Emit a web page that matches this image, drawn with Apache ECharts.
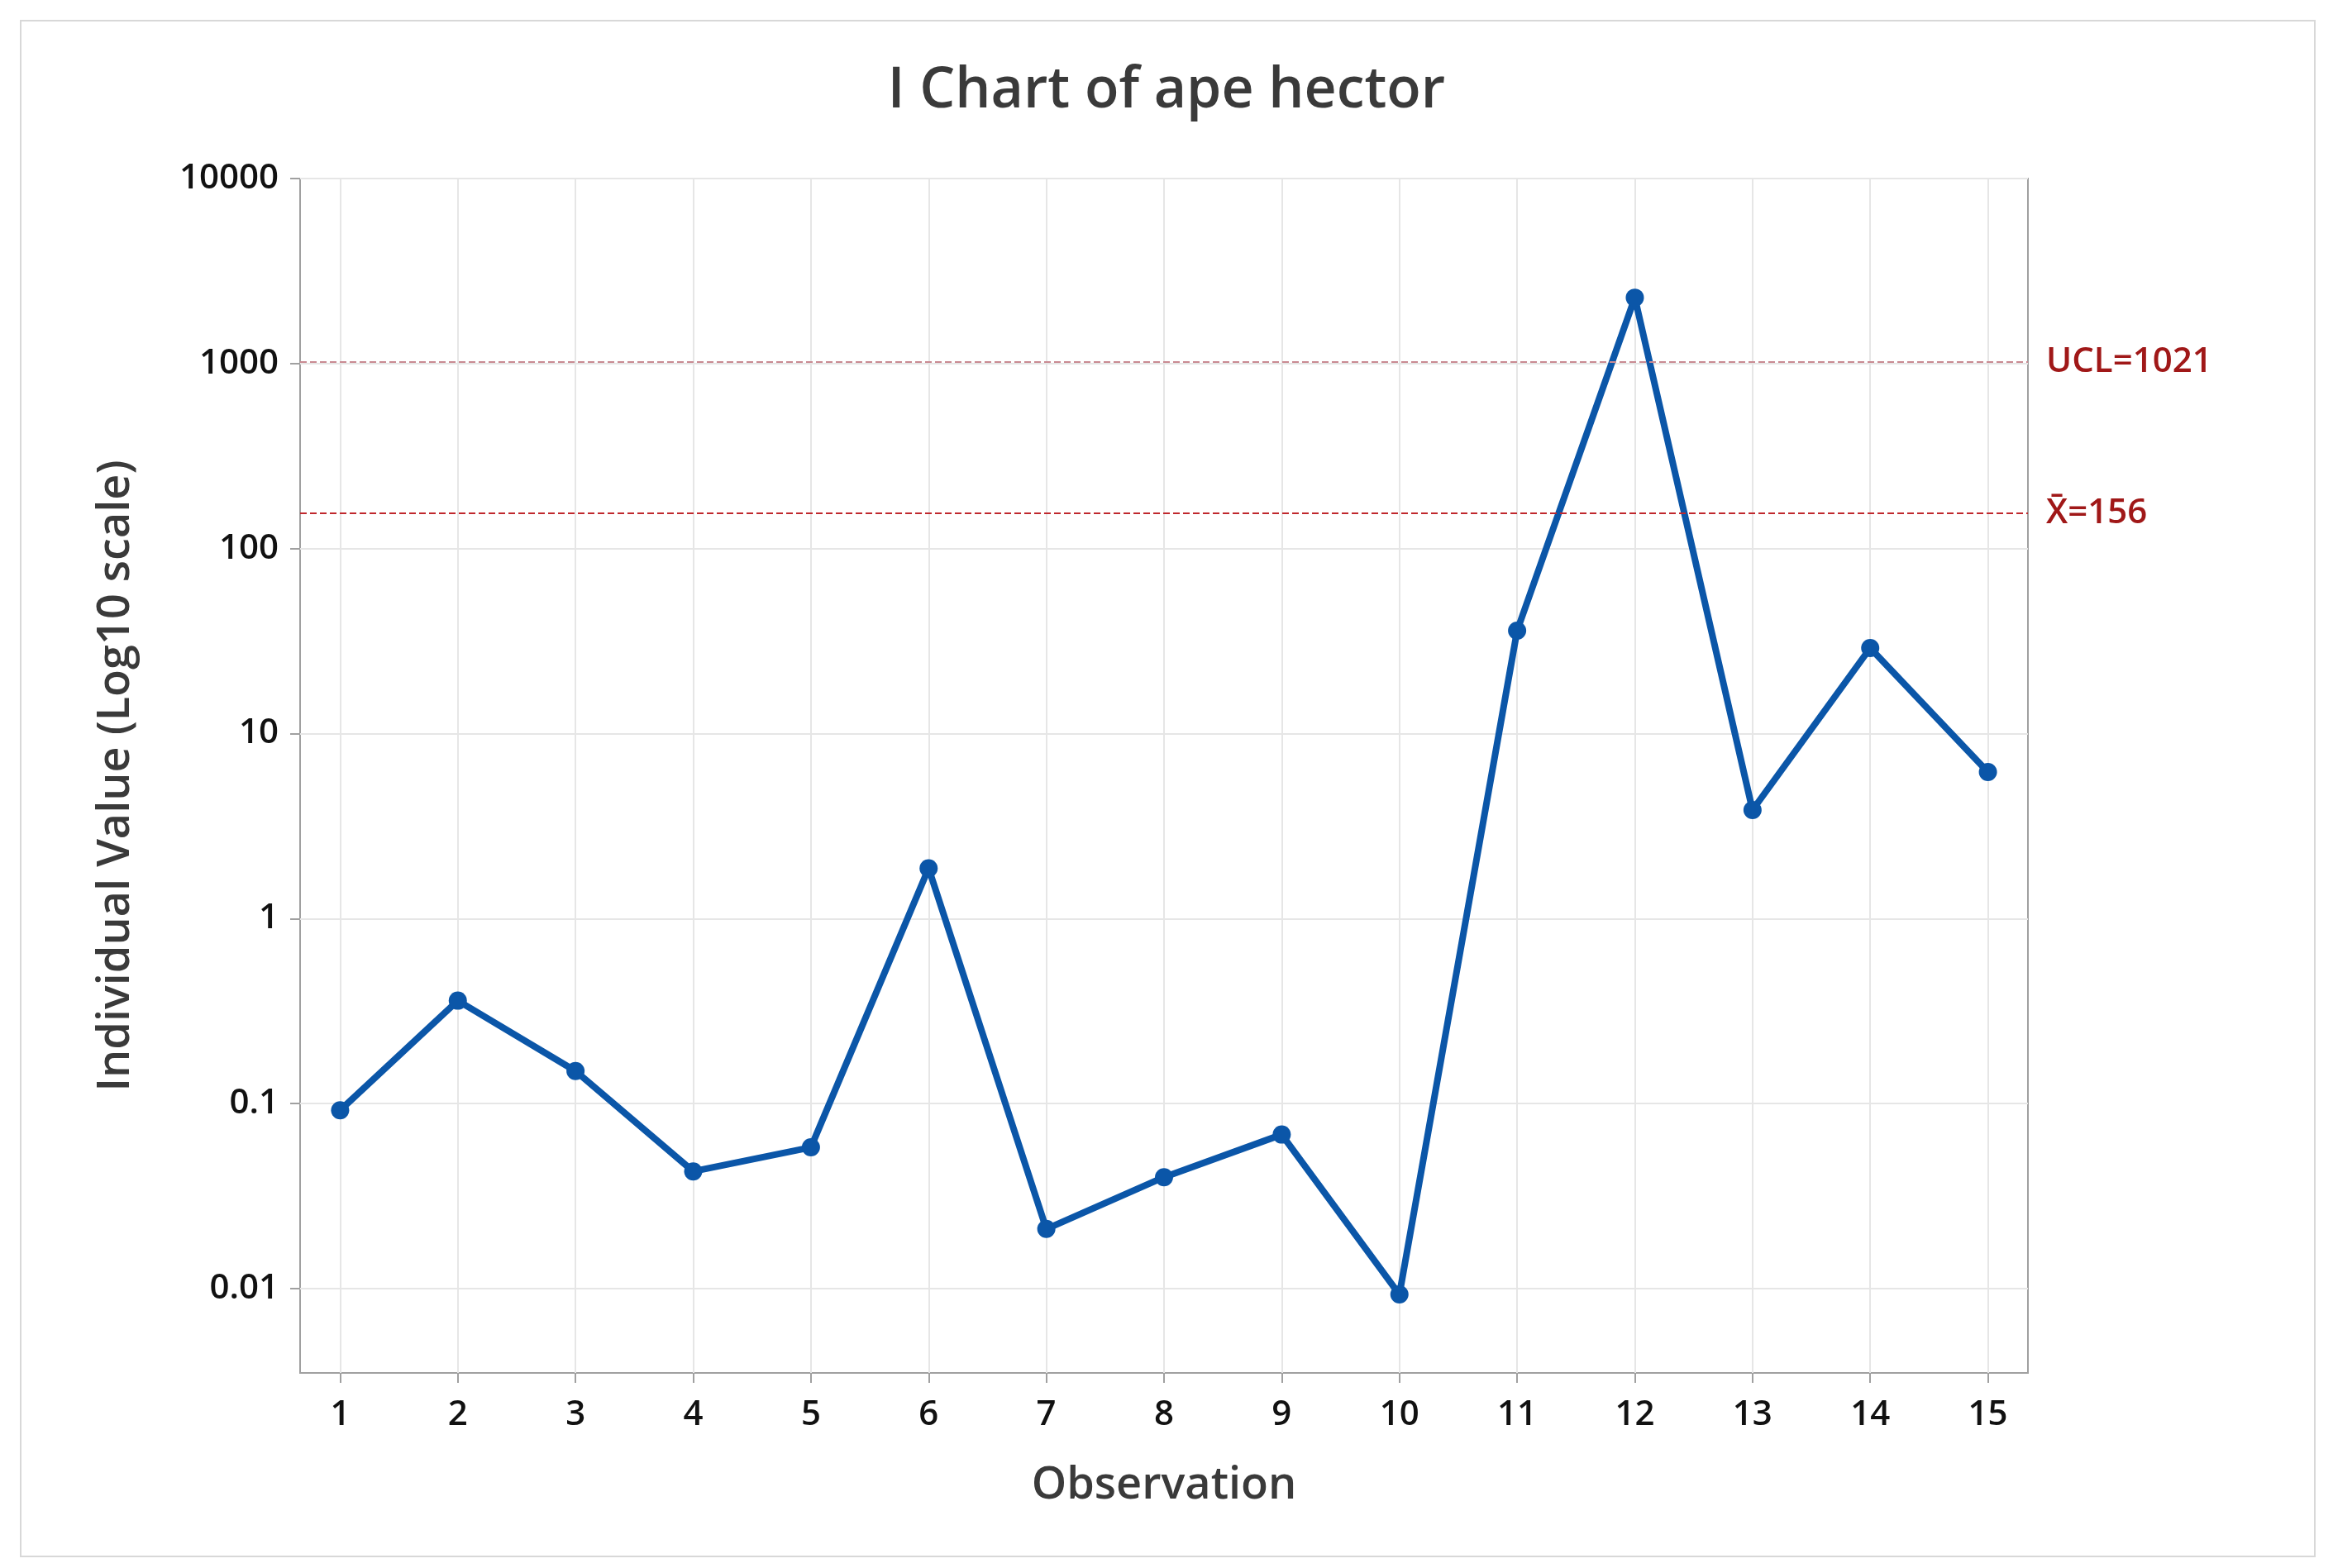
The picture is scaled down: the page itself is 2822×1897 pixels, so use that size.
<!DOCTYPE html>
<html>
<head>
<meta charset="utf-8">
<script src="https://cdn.jsdelivr.net/npm/echarts@6/dist/echarts.min.js"></script>
<style>html,body{margin:0;padding:0;background:#fff}#main{width:2822px;height:1897px}</style>
</head>
<body>
<div id="main"></div>
<script>
var observations = [1, 2, 3, 4, 5, 6, 7, 8, 9, 10, 11, 12, 13, 14, 15];
var values = [0.092, 0.36, 0.15, 0.043, 0.058, 1.87, 0.021, 0.040, 0.068, 0.0093, 36, 2270, 3.86, 29, 6.2];
var yTicks = [0.01, 0.1, 1, 10, 100, 1000, 10000];
var ucl = 1021;
var mean = 156;

var log10 = function (v) { return Math.log(v) / Math.LN10; };
var fmt = function (e) {
  var v = Math.pow(10, Math.round(e));
  return e < 0 ? v.toFixed(-Math.round(e)) : String(v);
};
var font = '"Open Sans", "Noto Sans", sans-serif';

var myChart = echarts.init(document.getElementById('main'));
myChart.setOption({
  backgroundColor: '#fff',
  animation: false,
  title: {
    text: 'I Chart of ape hector',
    left: 'center',
    top: 72,
    textStyle: { fontFamily: font, fontSize: 68, fontWeight: 600, color: '#3a3a3a' }
  },
  graphic: [{
    type: 'rect',
    shape: { x: 25, y: 25, width: 2775, height: 1858 },
    style: { fill: 'none', stroke: '#d8d8d8', lineWidth: 2 }
  }],
  grid: { left: 363, right: 369, top: 216, bottom: 236, show: true, borderColor: '#a0a0a0', borderWidth: 2 },
  xAxis: {
    type: 'value',
    min: 0.66,
    max: 15.34,
    name: 'Observation',
    nameLocation: 'middle',
    nameGap: 110,
    nameTextStyle: { fontFamily: font, fontSize: 54, fontWeight: 600, color: '#3a3a3a' },
    axisLine: { show: false, onZero: false },
    axisTick: { show: true, customValues: observations, length: 12, lineStyle: { color: '#a0a0a0', width: 2 } },
    axisLabel: { customValues: observations, fontFamily: font, fontSize: 42, fontWeight: 600, color: '#111', margin: 30 },
    splitLine: { show: true, lineStyle: { color: '#e6e6e6', width: 2 } }
  },
  yAxis: {
    type: 'value',
    min: log10(0.0035),
    max: 4,
    name: 'Individual Value (Log10 scale)',
    nameLocation: 'middle',
    nameGap: 195,
    nameTextStyle: { fontFamily: font, fontSize: 54, fontWeight: 600, color: '#3a3a3a' },
    axisLine: { show: false, onZero: false },
    axisTick: { show: true, customValues: yTicks.map(log10), length: 12, lineStyle: { color: '#a0a0a0', width: 2 } },
    axisLabel: { customValues: yTicks.map(log10), formatter: fmt, fontFamily: font, fontSize: 42, fontWeight: 600, color: '#111', margin: 26 },
    splitLine: { show: true, lineStyle: { color: '#e6e6e6', width: 2 } }
  },
  series: [{
    type: 'line',
    data: observations.map(function (o, i) { return [o, log10(values[i])]; }),
    symbol: 'circle',
    symbolSize: 22,
    lineStyle: { color: '#0b56a8', width: 8 },
    itemStyle: { color: '#0b56a8' },
    markLine: {
      symbol: 'none',
      silent: true,
      data: [
        { yAxis: log10(ucl), lineStyle: { color: '#c98a92', type: 'dashed', width: 2 },
          label: { formatter: 'UCL=' + ucl } },
        { yAxis: log10(mean), lineStyle: { color: '#c0282d', type: 'dashed', width: 2 },
          label: { formatter: 'X\u0304=' + mean } }
      ],
      label: { position: 'end', distance: 22, fontFamily: font, fontSize: 42, fontWeight: 600, color: '#a01818' }
    }
  }]
});
</script>
</body>
</html>
